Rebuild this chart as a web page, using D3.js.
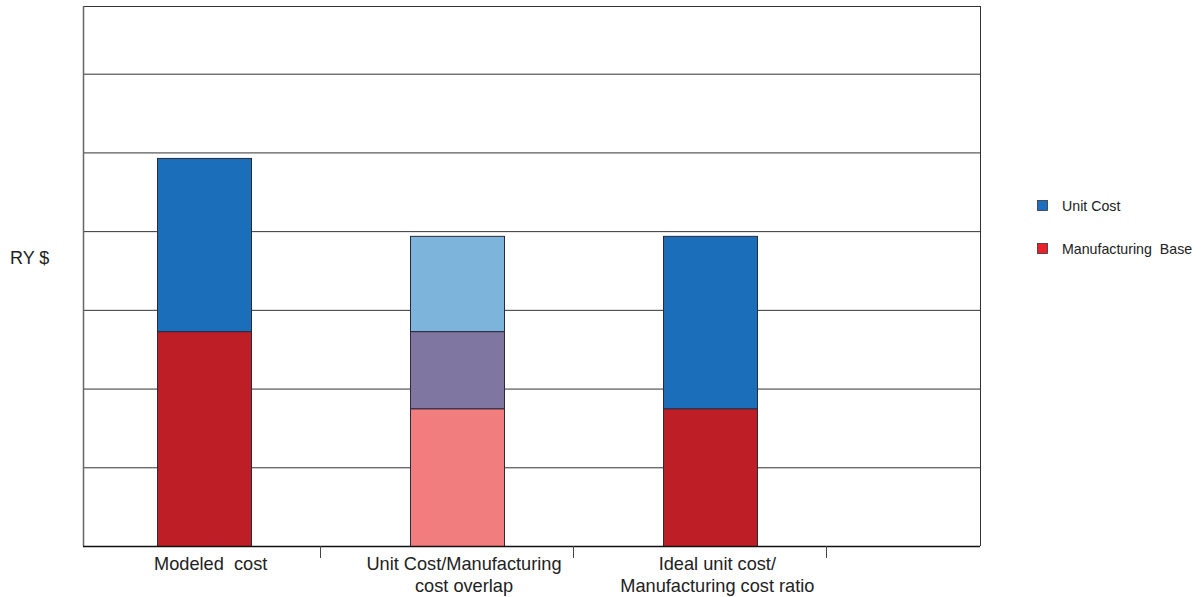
<!DOCTYPE html>
<html><head><meta charset="utf-8">
<script src="https://cdn.jsdelivr.net/npm/d3@7"></script>
<style>
html,body{margin:0;padding:0;background:#fff;}
svg{display:block;font-family:"Liberation Sans",Arial,sans-serif;}
</style></head>
<body><svg id="chart" width="1201" height="597"></svg>
<script>
// ---- data ----
const categories = ["Modeled  cost", "Unit Cost/Manufacturing cost overlap", "Ideal unit cost/ Manufacturing cost ratio"];
const categoryLines = [["Modeled  cost"], ["Unit Cost/Manufacturing", "cost overlap"], ["Ideal unit cost/", "Manufacturing cost ratio"]];
const manufacturingBase = [2.73, 2.73, 1.75];   // from 0
const unitCostStart = [2.73, 1.75, 1.75];
const unitCost = [2.2, 2.19, 2.19];
const yTicks = [1, 2, 3, 4, 5, 6];
const yMax = 6.86;
const legendLabels = ["Unit Cost", "Manufacturing  Base"];
const legendColors = ["#1f6fc0", "#e8212b"];

// ---- layout ----
const svg = d3.select("#chart");
const plot = {left: 83, right: 980, top: 6, bottom: 546};
const x = d3.scaleBand().domain(categories).range([77, 837]).paddingInner(0).paddingOuter(0);
const y = d3.scaleLinear().domain([0, yMax]).range([plot.bottom, plot.top]);
const barW = 94;
const cx = d => x(d) + x.bandwidth() / 2;

// gridlines
svg.append("g").selectAll("line").data(yTicks).join("line")
  .attr("x1", plot.left).attr("x2", plot.right)
  .attr("y1", d => y(d) + 0.5).attr("y2", d => y(d) + 0.5)
  .attr("stroke", "#333").attr("stroke-width", 1);

// frame
svg.append("line").attr("x1", plot.left).attr("x2", plot.right).attr("y1", plot.top + 0.5).attr("y2", plot.top + 0.5).attr("stroke", "#333");
svg.append("line").attr("x1", plot.right + 0.5).attr("x2", plot.right + 0.5).attr("y1", plot.top).attr("y2", plot.bottom).attr("stroke", "#333");
svg.append("line").attr("x1", plot.left + 0.5).attr("x2", plot.left + 0.5).attr("y1", plot.top).attr("y2", plot.bottom).attr("stroke", "#666").attr("stroke-width", 1.5);

// bars
const segs = [];
categories.forEach((c, i) => {
  const mb = manufacturingBase[i], us = unitCostStart[i], ue = us + unitCost[i];
  const ov0 = Math.max(0, us), ov1 = Math.min(mb, ue);
  if (ov1 > ov0) {
    segs.push({c, y0: 0, y1: ov0, fill: "#f27d7e"});
    segs.push({c, y0: ov0, y1: ov1, fill: "#7f76a1"});
    segs.push({c, y0: ov1, y1: ue, fill: "#7db4dc"});
  } else {
    segs.push({c, y0: 0, y1: mb, fill: "#be1f26"});
    segs.push({c, y0: us, y1: ue, fill: "#1b6fba"});
  }
});
svg.append("g").selectAll("rect").data(segs).join("rect")
  .attr("x", d => Math.round(cx(d.c) - barW / 2) + 0.5)
  .attr("width", barW)
  .attr("y", d => y(d.y1) + 0.5)
  .attr("height", d => y(d.y0) - y(d.y1))
  .attr("fill", d => d.fill)
  .attr("stroke", "#2a2a3a").attr("stroke-width", 1);

// x axis
const gx = svg.append("g").attr("transform", `translate(0,${plot.bottom})`);
gx.append("line").attr("x1", plot.left).attr("x2", plot.right).attr("y1", 0.5).attr("y2", 0.5).attr("stroke", "#111").attr("stroke-width", 1.5);
gx.selectAll("line.sep").data(categories).join("line").attr("class", "sep")
  .attr("x1", d => Math.round(cx(d) + 116) + 0.5).attr("x2", d => Math.round(cx(d) + 116) + 0.5)
  .attr("y1", 0).attr("y2", 12).attr("stroke", "#444");
gx.selectAll("text").data(categories).join("text")
  .attr("text-anchor", "middle")
  .attr("font-size", 18.2).attr("fill", "#222")
  .style("white-space", "pre")
  .attr("transform", d => `translate(${cx(d) + 7},0)`)
  .each(function(d, i) {
    d3.select(this).selectAll("tspan").data(categoryLines[i]).join("tspan")
      .attr("x", 0).attr("y", (t, j) => 24 + j * 22).text(t => t);
  });

// y label
svg.append("text").attr("x", 10).attr("y", 264).attr("font-size", 18).attr("fill", "#222").text("RY $");

// legend
const lg = svg.append("g").attr("transform", "translate(1037,200)");
legendLabels.forEach((l, i) => {
  lg.append("rect").attr("x", 0.5).attr("y", i * 43 + 0.5).attr("width", 10).attr("height", 10)
    .attr("fill", legendColors[i]).attr("stroke", "#333").attr("stroke-width", 0.8);
  lg.append("text").attr("x", 25).attr("y", i * 43 + 10.5).attr("font-size", 14.2).attr("fill", "#222")
    .style("white-space", "pre").text(l);
});
</script></body></html>
